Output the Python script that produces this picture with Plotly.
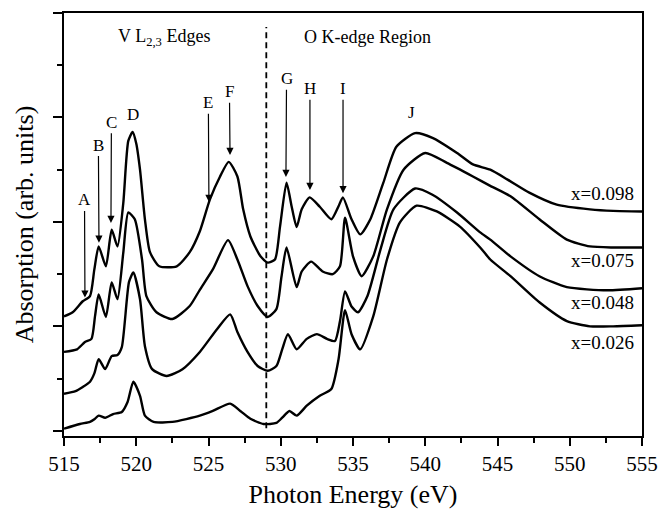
import plotly.graph_objects as go

# ---- data (offset spectra, arb. units) ----
e_098 = [515.0, 515.6, 516.3, 516.8, 517.1, 517.4, 517.9, 518.3, 518.7, 519.1, 519.45, 519.75,
         520.0, 520.26, 520.6, 520.95, 521.6, 522.8, 523.7, 524.4, 525.1, 525.8, 526.4, 527.0,
         527.4, 527.9, 528.6, 529.1, 529.6, 529.95, 530.4, 530.75, 531.1, 531.45, 532.0, 532.7,
         533.5, 534.0, 534.3, 534.9, 535.5, 536.2, 537.1, 538.0, 539.3, 540.5, 542.2, 543.3,
         544.5, 545.7, 547.2, 549.1, 551.4, 553.0, 555.0]
a_098 = [2.19, 2.27, 2.48, 2.58, 3.09, 3.53, 3.15, 3.85, 3.53, 4.35, 5.55, 5.72,
         5.5, 5.0, 4.05, 3.42, 3.15, 3.15, 3.42, 3.82, 4.43, 4.87, 5.15, 4.87,
         4.24, 3.72, 3.34, 3.22, 3.28, 3.91, 4.75, 4.3, 3.9, 4.24, 4.47, 4.29,
         4.05, 4.3, 4.47, 4.05, 3.76, 4.05, 4.75, 5.44, 5.7, 5.61, 5.32, 5.1,
         5.0, 4.81, 4.56, 4.33, 4.24, 4.21, 4.2]

e_075 = [515.0, 515.9, 516.45, 516.9, 517.15, 517.4, 517.9, 518.3, 518.7, 519.1, 519.45, 519.9,
         520.4, 520.7, 521.4, 522.5, 523.7, 524.4, 525.3, 526.35, 527.0, 527.7, 528.4, 529.1,
         529.7, 530.05, 530.4, 531.1, 531.45, 532.1, 532.9, 533.6, 534.1, 534.45, 535.0, 535.6,
         536.4, 537.35, 538.5, 540.0, 541.5, 543.3, 544.5, 545.9, 547.9, 549.8, 551.4, 553.0, 555.0]
a_075 = [1.51, 1.56, 1.70, 1.76, 2.2, 2.61, 2.18, 2.84, 2.52, 3.4, 4.18, 4.05,
         3.28, 2.58, 2.27, 2.14, 2.39, 2.7, 3.09, 3.65, 3.28, 2.77, 2.39, 2.18,
         2.33, 2.95, 3.51, 2.75, 3.05, 3.24, 3.05, 3.0, 3.15, 4.08, 3.34, 2.96,
         3.34, 4.24, 5.0, 5.32, 5.13, 4.87, 4.69, 4.49, 4.05, 3.66, 3.53, 3.51, 3.51]

e_048 = [515.0, 515.8, 516.3, 516.8, 517.1, 517.4, 517.85, 518.3, 518.7, 519.0, 519.5, 519.8,
         520.26, 520.6, 521.1, 522.1, 523.2, 524.4, 525.6, 526.5, 527.0, 527.7, 528.4, 529.1,
         529.7, 530.1, 530.5, 531.1, 531.8, 532.5, 533.2, 533.75, 534.1, 534.45, 534.9, 535.35,
         536.0, 536.9, 537.8, 539.3, 540.5, 542.2, 543.8, 544.5, 545.9, 547.9, 549.8, 552.6, 555.0]
a_048 = [0.71, 0.76, 0.84, 0.94, 1.1, 1.37, 1.18, 1.43, 1.45, 1.6, 2.85, 3.03,
         2.52, 1.62, 1.18, 1.05, 1.18, 1.51, 1.95, 2.23, 1.89, 1.51, 1.24, 1.15,
         1.24, 1.56, 1.85, 1.56, 1.76, 1.85, 1.76, 1.72, 2.1, 2.67, 2.38, 2.27,
         2.58, 3.47, 4.24, 4.64, 4.52, 4.18, 3.8, 3.66, 3.34, 2.96, 2.75, 2.69, 2.73]

e_026 = [515.0, 516.1, 516.8, 517.1, 517.4, 517.85, 518.4, 519.0, 519.4, 519.8, 520.26, 520.6,
         521.2, 522.5, 524.4, 525.3, 526.5, 527.2, 527.9, 528.8, 529.7, 530.1, 530.6, 531.1,
         531.8, 532.7, 533.5, 534.0, 534.45, 534.9, 535.5, 536.4, 537.35, 538.25, 539.4, 540.8,
         542.4, 543.8, 544.5, 545.9, 547.9, 549.8, 551.4, 553.0, 555.0]
a_026 = [0.04, 0.13, 0.17, 0.22, 0.29, 0.25, 0.32, 0.36, 0.55, 0.94, 0.67, 0.29,
         0.17, 0.17, 0.29, 0.38, 0.52, 0.38, 0.23, 0.13, 0.15, 0.25, 0.38, 0.29,
         0.48, 0.67, 0.8, 1.37, 2.31, 1.85, 1.56, 2.19, 3.28, 3.99, 4.31, 4.2,
         3.91, 3.51, 3.28, 2.96, 2.46, 2.1, 2.0, 2.0, 2.02]

series_names = ["x=0.098", "x=0.075", "x=0.048", "x=0.026"]
series_e = [e_098, e_075, e_048, e_026]
series_a = [a_098, a_075, a_048, a_026]

# peak labels: letter, arrow tip (energy, value), label position (energy, value)
peak_letters = ["A", "B", "C", "E", "F", "G", "H", "I"]
peak_tip_e = [516.45, 517.42, 518.25, 525.03, 526.49, 530.36, 532.02, 534.31]
peak_tip_a = [2.55, 3.6, 3.98, 4.38, 5.28, 4.86, 4.61, 4.55]
peak_lab_e = [516.42, 517.38, 518.28, 524.99, 526.45, 530.40, 532.02, 534.31]
peak_lab_a = [4.42, 5.47, 5.91, 6.28, 6.49, 6.74, 6.55, 6.55]

plain_letters = ["D", "J"]
plain_e = [519.78, 539.08]
plain_a = [6.05, 6.10]

divider_e = 529.0

FONT = "Liberation Serif, Times New Roman, serif"

fig = go.Figure()
for name, e, a in zip(series_names, series_e, series_a):
    fig.add_trace(go.Scatter(x=e, y=a, mode="lines", name=name,
                             line=dict(color="black", width=2.4, shape="spline", smoothing=0.6),
                             showlegend=False))

fig.add_shape(type="line", xref="x", yref="y", x0=divider_e, x1=divider_e, y0=0.05, y1=7.73,
              line=dict(color="black", width=1.8, dash="6px,4px"))

ann = []
for t, tx, ty, lx, ly in zip(peak_letters, peak_tip_e, peak_tip_a, peak_lab_e, peak_lab_a):
    ann.append(dict(x=tx, y=ty, ax=lx, ay=ly, axref="x", ayref="y", xref="x", yref="y",
                    text=t, showarrow=True, arrowhead=2, arrowsize=1.2, arrowwidth=1.2,
                    arrowcolor="black", font=dict(family=FONT, size=17, color="black")))
for t, x, y in zip(plain_letters, plain_e, plain_a):
    ann.append(dict(x=x, y=y, xref="x", yref="y", text=t, showarrow=False,
                    font=dict(family=FONT, size=17, color="black")))

ann.append(dict(x=521.9, y=7.54, xref="x", yref="y", text="V L<sub>2,3</sub> Edges",
                showarrow=False, font=dict(family=FONT, size=18, color="black")))
ann.append(dict(x=536.0, y=7.54, xref="x", yref="y", text="O K-edge Region",
                showarrow=False, font=dict(family=FONT, size=18, color="black")))

label_pos = [4.55, 3.27, 2.45, 1.70]
for name, y in zip(series_names, label_pos):
    ann.append(dict(x=554.6, y=y, xref="x", yref="y", text=name, showarrow=False,
                    xanchor="right", font=dict(family=FONT, size=19, color="black")))

fig.update_layout(
    width=659, height=509,
    margin=dict(l=64, r=17, t=13, b=73, autoexpand=False),
    plot_bgcolor="white", paper_bgcolor="white",
    font=dict(family=FONT, color="black"),
    annotations=ann,
    xaxis=dict(range=[515, 555], dtick=5, tick0=515, showgrid=False, zeroline=False,
               automargin=False,
               showline=True, linewidth=2, linecolor="black", mirror=True,
               ticks="outside", ticklen=8, tickwidth=2, tickcolor="black",
               minor=dict(dtick=2.5, tick0=515, ticks="outside", ticklen=5, tickwidth=2,
                          tickcolor="black", showgrid=False),
               tickfont=dict(family=FONT, size=21, color="black"),
               title=dict(text="Photon Energy (eV)", standoff=10,
                          font=dict(family=FONT, size=26, color="black"))),
    yaxis=dict(range=[-0.1, 8], dtick=2, tick0=0, showgrid=False, zeroline=False,
               automargin=False,
               showline=True, linewidth=2, linecolor="black", mirror=True,
               ticks="outside", ticklen=9, tickwidth=2, tickcolor="black",
               showticklabels=False,
               minor=dict(dtick=1, tick0=0, ticks="outside", ticklen=5, tickwidth=2,
                          tickcolor="black", showgrid=False),
               title=dict(text="Absorption (arb. units)", standoff=12,
                          font=dict(family=FONT, size=26, color="black"))),
)

fig.write_html("out.html", config={"displayModeBar": False},
               post_script="document.body.style.margin='0';document.body.style.overflow='hidden';")
